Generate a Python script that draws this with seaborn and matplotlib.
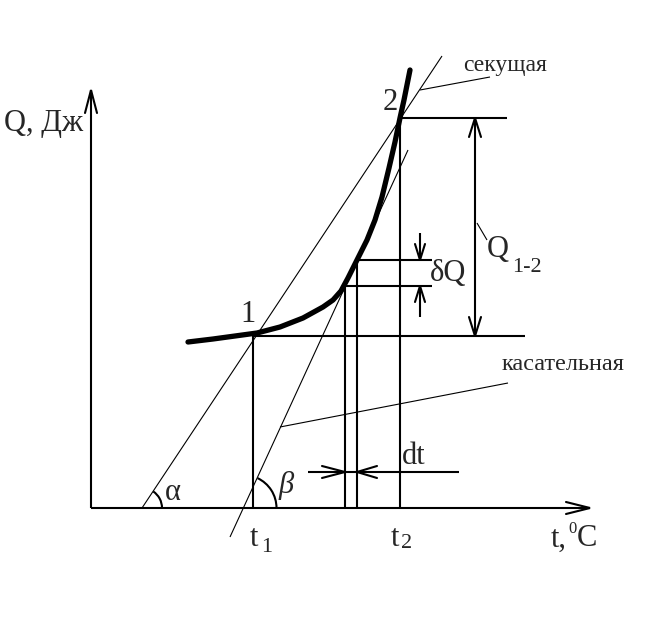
import numpy as np
import matplotlib
matplotlib.use('Agg')
import matplotlib.pyplot as plt
import seaborn as sns
from matplotlib.patches import Arc

# --- diagram data (pixel-like units, y grows downward) ---
# heating curve Q(t)
curve_x = [188, 213, 257, 280, 303, 323, 333, 341, 348, 357, 367, 375, 382, 389, 395, 400, 404, 410]
curve_y = [342, 339, 333, 327, 318, 307, 300, 291, 278, 260, 240, 220, 197, 168, 142, 118, 100, 70]

origin = (91, 508)
x_axis_end = 590
y_axis_end = 90

point1 = (253, 335)
point2 = (400, 118)

secant_x = [142, 442]
secant_y = [508, 56]
tangent_x = [230, 408]
tangent_y = [537, 150]

dq_low, dq_high = 286, 260        # delta Q levels
dt_left, dt_right = 345, 357      # dt verticals
q12_x = 475                       # Q1-2 dimension arrow
dq_x = 420                        # dQ dimension arrow
dt_y = 472                        # dt dimension line

sns.set_theme(style="white")
plt.rcParams['font.family'] = ['Liberation Serif', 'DejaVu Serif']

fig = plt.figure(figsize=(6.67, 6.23), dpi=100)
ax = fig.add_axes([0, 0, 1, 1])
ax.set_xlim(0, 667)
ax.set_ylim(623, 0)
ax.axis('off')

K = 'black'
thick = 1.5
thin = 0.8


def line(xs, ys, lw=thick):
    ax.plot(xs, ys, color=K, lw=lw, solid_capstyle='butt')


def head(tip, base, hw, lw=thick):
    # open "V" arrow head: tip point, centre of base, half width
    tx, ty = tip
    bx, by = base
    d = np.array([tx - bx, ty - by], dtype=float)
    n = np.array([-d[1], d[0]]) / np.hypot(*d) * hw
    ax.plot([bx + n[0], tx, bx - n[0]], [by + n[1], ty, by - n[1]],
            color=K, lw=lw, solid_joinstyle='miter')


# axes
line([origin[0], x_axis_end], [origin[1], origin[1]])
line([origin[0], origin[0]], [origin[1], y_axis_end])
head((origin[0], y_axis_end), (origin[0], y_axis_end + 23), 6)
head((x_axis_end, origin[1]), (x_axis_end - 24, origin[1]), 6)

# curve
ax.plot(curve_x, curve_y, color=K, lw=3.8, solid_capstyle='round',
        solid_joinstyle='round')

# secant and tangent
line(secant_x, secant_y, thin)
line(tangent_x, tangent_y, thin)

# verticals and horizontals
line([point1[0], point1[0]], [origin[1], point1[1]])
line([point1[0], 525], [point1[1] + 1, point1[1] + 1])
line([point2[0], point2[0]], [origin[1], point2[1]])
line([point2[0], 507], [point2[1], point2[1]])
line([dt_left, dt_left], [origin[1], dq_low])
line([dt_right, dt_right], [origin[1], dq_high])
line([dt_left, 432], [dq_low, dq_low])
line([dt_right, 432], [dq_high, dq_high])

# Q1-2 dimension
line([q12_x, q12_x], [point2[1], point1[1] + 1])
head((q12_x, point2[1]), (q12_x, point2[1] + 19), 6)
head((q12_x, point1[1] + 1), (q12_x, point1[1] - 18), 6)
line([477, 487], [223, 240], thin)

# dQ dimension
line([dq_x, dq_x], [233, dq_high])
line([dq_x, dq_x], [dq_low, 317])
head((dq_x, dq_high), (dq_x, dq_high - 16), 5)
head((dq_x, dq_low), (dq_x, dq_low + 16), 5)

# dt dimension
line([308, 459], [dt_y, dt_y])
head((dt_left, dt_y), (dt_left - 23, dt_y), 6)
head((dt_right, dt_y), (dt_right + 20, dt_y), 6)

# angle arcs
ax.add_patch(Arc((secant_x[0], origin[1]), 40, 40, theta1=-56, theta2=0,
                 color=K, lw=thick))
ax.add_patch(Arc((243.5, origin[1]), 66, 66, theta1=-65, theta2=0,
                 color=K, lw=thick))

# leader lines
line([420, 490], [90, 77], thin)
line([280, 508], [427, 383], thin)

# labels
fs = 22
sub = 16
ax.text(4, 123, 'Q, Дж', fontsize=fs, ha='left', va='center')
ax.text(248, 315, '1', fontsize=fs, ha='center', va='center')
ax.text(390, 102, '2', fontsize=fs, ha='center', va='center')
ax.text(463, 66, 'секущая', fontsize=17, ha='left', va='center')
ax.text(502, 364, 'касательная', fontsize=17.5, ha='left', va='center')
ax.text(430, 273, 'δQ', fontsize=fs, ha='left', va='center')
ax.text(487, 250, 'Q', fontsize=fs, ha='left', va='center')
ax.text(512, 267, '1-2', fontsize=sub, ha='left', va='center')
ax.text(414, 456, 'dt', fontsize=fs, ha='center', va='center')
ax.text(173, 492, 'α', fontsize=fs, ha='center', va='center')
ax.text(286, 485, 'β', fontsize=fs, ha='center', va='center', style='italic')
ax.text(250, 539, 't', fontsize=fs, ha='left', va='center')
ax.text(261, 547, '1', fontsize=sub, ha='left', va='center')
ax.text(391, 539, 't', fontsize=fs, ha='left', va='center')
ax.text(401, 544, '2', fontsize=sub, ha='left', va='center')
ax.text(551, 539, 't,', fontsize=fs, ha='left', va='center')
ax.text(568, 529, '0', fontsize=12, ha='left', va='center')
ax.text(577, 539, 'C', fontsize=fs, ha='left', va='center')

fig.savefig('out.png', dpi=100)
